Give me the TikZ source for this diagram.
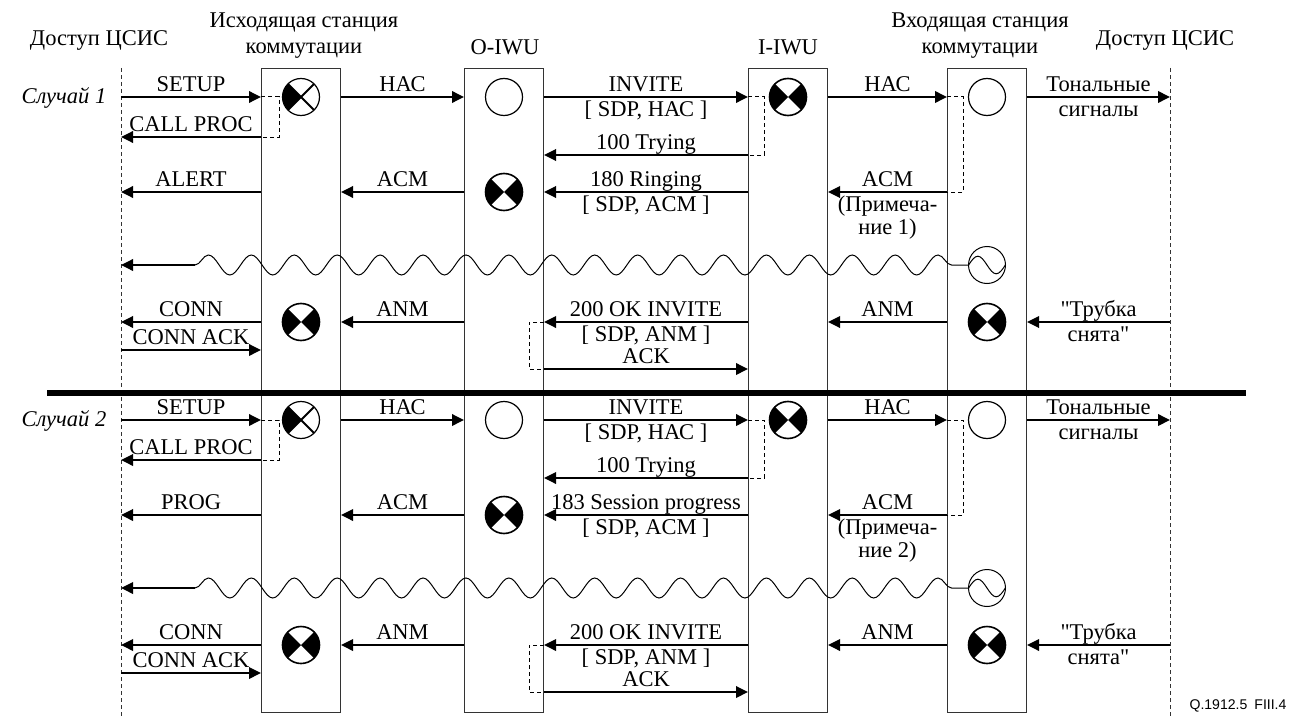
\documentclass[tikz,border=0pt]{standalone}
\usepackage{fontspec}
\setmainfont{Liberation Serif}
\setsansfont{Liberation Sans}
\newfontfamily\quotefont{Liberation Serif}
\usepackage{tikz}
\usetikzlibrary{arrows.meta, positioning, decorations.pathmorphing}
\newcommand{\msgfont}{\fontsize{16pt}{18.5pt}\selectfont}
\newcommand{\sq}{{\quotefont\symbol{34}}}

\begin{document}
\begin{tikzpicture}[
    x=0.25mm, y=-0.25mm,
    lifebox/.style={rectangle, draw=black!80, line width=0.25mm, minimum width=19.75mm, minimum height=160.75mm, inner sep=0pt},
    access/.style={draw=black!80, line width=0.25mm, dash pattern=on 1mm off 0.75mm},
    hdr/.style={font=\msgfont, inner sep=0pt, align=center},
    msg/.style={-{Triangle[length=3mm, width=2.9mm]}, line width=0.38mm},
    bracket/.style={line width=0.25mm, dash pattern=on 1mm off 0.75mm},
    lbl/.style={font=\msgfont, inner sep=0pt, text height=3.8mm, text depth=0pt, midway},
    msgup/.style={lbl, above=1.2mm},
    msgdn/.style={lbl, below=1mm},
    msgdnn/.style={lbl, below=6.6mm},
    wavy/.style={line width=0.25mm, decorate, decoration={snake, amplitude=2.5mm, segment length=10.73mm}},
    emptysym/.style={circle, draw, line width=0.3mm, minimum size=9.25mm, inner sep=0pt},
    origsym/.style={emptysym, path picture={
        \fill (path picture bounding box.center) -- (path picture bounding box.north west) -- (path picture bounding box.south west) -- cycle;
        \draw[line width=0.45mm] (path picture bounding box.north west) -- (path picture bounding box.south east)
            (path picture bounding box.south west) -- (path picture bounding box.north east);}},
    bowsym/.style={emptysym, line width=0.4mm, path picture={
        \fill (path picture bounding box.center) -- (path picture bounding box.north west) -- (path picture bounding box.south west) -- cycle;
        \fill (path picture bounding box.center) -- (path picture bounding box.north east) -- (path picture bounding box.south east) -- cycle;}},
    tonesym/.style={emptysym, line width=0.25mm, path picture={
        \draw[line width=0.25mm] ([xshift=-4.6mm]path picture bounding box.center) sin ++(2.3mm,2.2mm) cos ++(2.3mm,-2.2mm) sin ++(2.3mm,-2.2mm) cos ++(2.3mm,2.2mm);}}
]
    \useasboundingbox (0,0) rectangle (1294,716);

    % Headers
    \node[hdr] (hdA) at (99, 40) {Доступ ЦСИС};
    \node[hdr] (hdB) at (304, 36) {Исходящая станция\\коммутации};
    \node[hdr] (hdC) at (505, 47) {O-IWU};
    \node[hdr] (hdD) at (788, 47) {I-IWU};
    \node[hdr] (hdE) at (980, 36) {Входящая станция\\коммутации};
    \node[hdr] (hdF) at (1165, 40) {Доступ ЦСИС};

    % Lifelines
    \coordinate (accL) at (121, 68);
    \coordinate (accLend) at (121, 716);
    \coordinate (accR) at (1170, 68);
    \coordinate (accRend) at (1170, 716);
    \node[lifebox] (oex) at (301, 390.5) {};
    \node[lifebox] (oiwu) at (504, 390.5) {};
    \node[lifebox] (iiwu) at (788, 390.5) {};
    \node[lifebox] (iex) at (987, 390.5) {};
    \draw[access] (accL) -- (accLend);
    \draw[access] (accR) -- (accRend);

    % Both cases
    \foreach \cs/\dy/\amsg/\pmsg in {1/0/ALERT/{180 Ringing}, 2/323/PROG/{183 Session progress}} {
        \coordinate (r1-\cs) at (0, {97+\dy});
        \coordinate (r2-\cs) at (0, {137+\dy});
        \coordinate (r3-\cs) at (0, {155+\dy});
        \coordinate (r4-\cs) at (0, {192+\dy});
        \coordinate (r6-\cs) at (0, {322+\dy});
        \coordinate (r7-\cs) at (0, {350+\dy});
        \coordinate (r8-\cs) at (0, {369+\dy});
        \coordinate (wv-\cs) at (195, {265+\dy});

        \node[font=\msgfont\itshape, inner sep=0pt, anchor=base] (case-\cs) at (64, {103+\dy}) {Случай \cs};

        % Symbols
        \node[origsym] (sA-\cs) at (oex |- r1-\cs) {};
        \node[emptysym] (sB-\cs) at (oiwu |- r1-\cs) {};
        \node[bowsym] (sC-\cs) at (iiwu |- r1-\cs) {};
        \node[emptysym] (sD-\cs) at (iex |- r1-\cs) {};
        \node[bowsym] (sE-\cs) at (oiwu |- r4-\cs) {};
        \node[tonesym] (tone-\cs) at (iex |- wv-\cs) {};
        \node[bowsym] (sF-\cs) at (oex |- r6-\cs) {};
        \node[bowsym] (sG-\cs) at (iex |- r6-\cs) {};

        % Set-up
        \draw[msg] (accL |- r1-\cs) -- (oex.west |- r1-\cs) node[msgup] {SETUP};
        \draw[bracket] (oex.west |- r1-\cs) -- ++(18,0) |- (oex.west |- r2-\cs);
        \draw[msg] (oex.west |- r2-\cs) -- (accL |- r2-\cs) node[msgup] {CALL PROC};
        \draw[msg] (oex.east |- r1-\cs) -- (oiwu.west |- r1-\cs) node[msgup] {НАС};
        \draw[msg] (oiwu.east |- r1-\cs) -- (iiwu.west |- r1-\cs) node[msgup] {INVITE} node[msgdn] {[ SDP, НАС ]};
        \draw[bracket] (iiwu.west |- r1-\cs) -- ++(16,0) |- (iiwu.west |- r3-\cs);
        \draw[msg] (iiwu.west |- r3-\cs) -- (oiwu.east |- r3-\cs) node[msgup] {100 Trying};
        \draw[msg] (iiwu.east |- r1-\cs) -- (iex.west |- r1-\cs) node[msgup] {НАС};
        \draw[bracket] (iex.west |- r1-\cs) -- ++(16,0) |- (iex.west |- r4-\cs);
        \draw[msg] (iex.east |- r1-\cs) -- (accR |- r1-\cs) node[msgup] {Тональные} node[msgdn] {сигналы};

        % Alerting
        \draw[msg] (oex.west |- r4-\cs) -- (accL |- r4-\cs) node[msgup] {\amsg};
        \draw[msg] (oiwu.west |- r4-\cs) -- (oex.east |- r4-\cs) node[msgup] {ACM};
        \draw[msg] (iiwu.west |- r4-\cs) -- (oiwu.east |- r4-\cs) node[msgup] {\pmsg} node[msgdn] {[ SDP, ACM ]};
        \draw[msg] (iex.west |- r4-\cs) -- (iiwu.east |- r4-\cs) node[msgup] {ACM} node[msgdn] {(Примеча-} node[msgdnn] {ние \cs)};

        % Ringing tone
        \draw[msg] (wv-\cs) -- (accL |- wv-\cs);
        \draw[wavy] (wv-\cs) -- (tone-\cs.west);

        % Answer
        \draw[msg] (oex.west |- r6-\cs) -- (accL |- r6-\cs) node[msgup] {CONN};
        \draw[msg] (accL |- r7-\cs) -- (oex.west |- r7-\cs) node[msgup] {CONN ACK};
        \draw[msg] (oiwu.west |- r6-\cs) -- (oex.east |- r6-\cs) node[msgup] {ANM};
        \draw[msg] (iiwu.west |- r6-\cs) -- (oiwu.east |- r6-\cs) node[msgup] {200 OK INVITE} node[msgdn] {[ SDP, ANM ]};
        \draw[bracket] (oiwu.east |- r6-\cs) -- ++(-15,0) |- (oiwu.east |- r8-\cs);
        \draw[msg] (oiwu.east |- r8-\cs) -- (iiwu.west |- r8-\cs) node[msgup] {ACK};
        \draw[msg] (iex.west |- r6-\cs) -- (iiwu.east |- r6-\cs) node[msgup] {ANM};
        \draw[msg] (accR |- r6-\cs) -- (iex.east |- r6-\cs) node[msgup] {\sq Трубка} node[msgdn] {снята\sq};
    }

    % Separator
    \coordinate (sepL) at (47, 393);
    \coordinate (sepR) at (1246, 393);
    \draw[line width=1.5mm] (sepL) -- (sepR);

    \node[font=\sffamily\fontsize{10pt}{12pt}\selectfont, inner sep=0pt] (tag) at (1238, 706) {Q.1912.5\enspace FIII.4};
\end{tikzpicture}
\end{document}
